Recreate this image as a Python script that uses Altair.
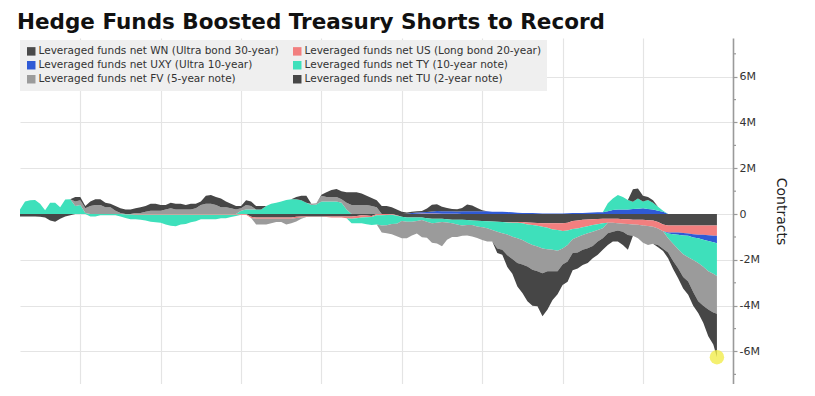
import altair as alt
import pandas as pd

# time (decimal years)
t = [2006.5, 2006.625, 2006.75, 2006.875, 2007.0, 2007.125, 2007.25, 2007.375, 2007.5, 2007.625,
     2007.75, 2007.875, 2008.0, 2008.125, 2008.25, 2008.375, 2008.5, 2008.625, 2008.75, 2008.875,
     2009.0, 2009.125, 2009.25, 2009.375, 2009.5, 2009.625, 2009.75, 2009.875, 2010.0, 2010.125,
     2010.25, 2010.375, 2010.5, 2010.625, 2010.75, 2010.875, 2011.0, 2011.125, 2011.25, 2011.375,
     2011.5, 2011.625, 2011.75, 2011.875, 2012.0, 2012.125, 2012.25, 2012.375, 2012.5, 2012.625,
     2012.75, 2012.875, 2013.0, 2013.125, 2013.25, 2013.375, 2013.5, 2013.625, 2013.75, 2013.875,
     2014.0, 2014.125, 2014.25, 2014.375, 2014.5, 2014.625, 2014.75, 2014.875, 2015.0, 2015.125,
     2015.25, 2015.375, 2015.5, 2015.625, 2015.75, 2015.875, 2016.0, 2016.125, 2016.25, 2016.375,
     2016.5, 2016.625, 2016.75, 2016.875, 2017.0, 2017.125, 2017.25, 2017.375, 2017.5, 2017.625,
     2017.75, 2017.875,
     2018.0, 2018.125, 2018.25, 2018.375, 2018.5, 2018.625, 2018.75, 2018.875,
     2019.0, 2019.125, 2019.25, 2019.375, 2019.5, 2019.625, 2019.75, 2019.875,
     2020.0, 2020.125, 2020.25, 2020.375, 2020.5, 2020.625, 2020.75, 2020.875,
     2021.0, 2021.125, 2021.25, 2021.375, 2021.5, 2021.625, 2021.75, 2021.875,
     2022.0, 2022.125, 2022.25, 2022.375, 2022.5, 2022.625, 2022.75, 2022.875,
     2023.0, 2023.125, 2023.25, 2023.375, 2023.5, 2023.625, 2023.75, 2023.84]

# net positions, millions of contracts
wn = [0, 0, 0, 0, 0, 0, 0, 0, 0, 0, 0, 0, 0, 0, 0, 0, 0, 0, 0, 0,
      0, 0, 0, 0, 0, 0, 0, 0, 0, 0, 0, 0, 0, 0, 0, 0, 0, 0, 0, 0,
      0, 0, 0, 0, 0, 0, -0.12, -0.15, -0.15, -0.15, -0.15, -0.15, -0.15, -0.15, -0.15, -0.12,
      -0.1, -0.1, -0.1, -0.1, -0.1, -0.1, -0.1, -0.1, -0.1, -0.1, -0.1, -0.08, -0.05, -0.06,
      -0.08, 0, 0, 0, 0, -0.05, -0.12, -0.15, -0.15, -0.15, -0.15, -0.18, -0.2, -0.2, -0.2,
      -0.22, -0.25, -0.25, -0.25, -0.26, -0.28, -0.29,
      -0.3, -0.31, -0.32, -0.33, -0.35, -0.35, -0.35, -0.35,
      -0.35, -0.37, -0.38, -0.39, -0.4, -0.4, -0.4, -0.4,
      -0.4, -0.38, -0.3, -0.28, -0.25, -0.24, -0.22, -0.21,
      -0.2, -0.2, -0.2, -0.2, -0.22, -0.23, -0.25, -0.25,
      -0.25, -0.27, -0.28, -0.35, -0.45, -0.5, -0.5, -0.5,
      -0.5, -0.5, -0.5, -0.5, -0.5, -0.5, -0.5, -0.5]
us = [0, 0, 0, 0, 0, 0, 0, 0, 0, 0, 0, 0, 0, 0, 0, 0, 0, 0, 0, 0,
      0, -0.02, -0.02, -0.03, -0.03, -0.03, -0.03, -0.03, -0.03, -0.03, -0.03, -0.03, -0.03,
      -0.03, -0.03, -0.03, -0.03, -0.03, -0.03, -0.03, -0.03, -0.03, -0.03, -0.03, -0.03, -0.03,
      -0.05, -0.05, -0.05, -0.05, -0.05, -0.05, -0.05, -0.05, -0.05, -0.05, -0.05, -0.03,
      -0.02, -0.02, -0.02, -0.03, -0.05, -0.05, -0.05, -0.08, -0.1, -0.1, -0.1, -0.08,
      -0.05, -0.05, -0.05, -0.04, -0.03, -0.02, 0, 0, 0, 0.02, 0.03, 0.03, 0.03, 0.03,
      0.02, 0.02, 0.02, 0.01, 0, 0, 0, 0,
      0, 0, 0, 0, 0, -0.02, -0.03, -0.03,
      -0.05, -0.08, -0.1, -0.12, -0.15, -0.2, -0.27, -0.3,
      -0.34, -0.34, -0.35, -0.35, -0.33, -0.29, -0.26, -0.23,
      -0.2, -0.18, -0.18, -0.2, -0.2, -0.2, -0.2, -0.22,
      -0.25, -0.25, -0.27, -0.28, -0.3, -0.3, -0.3, -0.3,
      -0.33, -0.35, -0.38, -0.4, -0.4, -0.42, -0.45, -0.45]
uxy = [0, 0, 0, 0, 0, 0, 0, 0, 0, 0, 0, 0, 0, 0, 0, 0, 0, 0, 0, 0,
       0, 0, 0, 0, 0, 0, 0, 0, 0, 0, 0, 0, 0, 0, 0, 0, 0, 0, 0, 0,
       0, 0, 0, 0, 0, 0, 0, 0, 0, 0, 0, 0, 0, 0, 0, 0, 0, 0, 0, 0,
       0, 0, 0, 0, 0, 0, 0, 0, 0, 0, 0, 0, 0, 0, 0, 0,
       0, 0.02, 0.05, 0.05, 0.05, 0.06, 0.08, 0.1, 0.1, 0.1, 0.1, 0.1, 0.12, 0.12, 0.12, 0.12,
       0.12, 0.12, 0.1, 0.1, 0.1, 0.09, 0.08, 0.06,
       0.05, 0.05, 0.05, 0.04, 0.03, 0.03, 0.03, 0.03,
       0.03, 0.04, 0.05, 0.05, 0.05, 0.06, 0.07, 0.08,
       0.08, 0.12, 0.18, 0.2, 0.2, 0.2, 0.22, 0.23,
       0.25, 0.22, 0.2, 0.15, 0.1, -0.05, -0.08, -0.1,
       -0.1, -0.1, -0.14, -0.16, -0.22, -0.25, -0.28, -0.32]
ty = [0.2, 0.55, 0.6, 0.62, 0.45, 0.17, 0.5, 0.5, 0.3, 0.64,
      0.65, 0.35, 0.4, 0.05, -0.1, -0.1, -0.05, -0.05, -0.05, -0.05,
      -0.1, -0.15, -0.2, -0.2, -0.22, -0.25, -0.3, -0.33, -0.35, -0.42,
      -0.48, -0.5, -0.42, -0.4, -0.33, -0.28, -0.2, -0.2, -0.2, -0.2,
      -0.15, -0.15, -0.1, -0.05, 0.15, 0.2, 0.2, 0.2, 0.2, 0.35,
      0.45, 0.5, 0.55, 0.62, 0.65, 0.65, 0.6, 0.5, 0.4, 0.42,
      0.55, 0.55, 0.55, 0.55, 0.5, 0.2, -0.2, -0.22, -0.25, -0.3,
      -0.35, -0.4, -0.45, -0.45, -0.4, -0.35, -0.18, -0.18, -0.18, -0.15,
      -0.11, -0.15, -0.2, -0.18, -0.15, -0.15, -0.15, -0.2, -0.25, -0.22,
      -0.2, -0.25,
      -0.28, -0.31, -0.38, -0.44, -0.49, -0.52, -0.61, -0.68,
      -0.73, -0.8, -0.87, -0.91, -0.95, -0.94, -0.89, -0.9,
      -0.76, -0.63, -0.45, -0.37, -0.33, -0.31, -0.29, -0.26,
      -0.22, 0.35, 0.5, 0.63, 0.55, 0.41, 0.32, 0.45,
      0.3, 0.39, 0.3, 0.17, 0.05, -0.21, -0.42, -0.64,
      -0.82, -0.93, -0.98, -1.08, -1.18, -1.33, -1.37, -1.43]
fv = [0, 0, 0, 0, 0, 0, 0, 0, 0, 0,
      0, 0.2, 0.2, 0.2, 0.35, 0.4, 0.4, 0.3, 0.3, 0.15,
      0.05, 0, 0, 0.05, 0.05, 0.1, 0.15, 0.15, 0.15, 0.2,
      0.25, 0.2, 0.2, 0.2, 0.2, 0.25, 0.4, 0.45, 0.45, 0.4,
      0.3, 0.3, 0.25, 0.2, 0.1, 0.2, 0.15, -0.25, -0.25, -0.25,
      -0.2, -0.15, -0.15, -0.25, -0.2, -0.15, -0.05, 0, 0.05, 0.05,
      0.25, 0.2, 0.2, 0.2, 0.15, 0.3, 0.4, 0.4, 0.4, 0.4,
      0.35, 0.3, -0.3, -0.35, -0.45, -0.55, -0.75, -0.72, -0.6, -0.55,
      -0.75, -0.7, -0.85, -0.9, -1.05, -0.75, -0.6, -0.55, -0.45, -0.45,
      -0.5, -0.5,
      -0.55, -0.58, -0.5, -0.73, -0.72, -0.91, -0.97, -1.08,
      -1.07, -1.04, -1.08, -1.08, -1.08, -0.96, -0.94, -0.9,
      -0.7, -0.72, -0.6, -0.68, -0.65, -0.65, -0.62, -0.5,
      -0.44, -0.46, -0.39, -0.32, -0.35, -0.48, -0.5, -0.59,
      -0.75, -0.83, -0.75, -0.72, -0.76, -0.62, -0.75, -0.82,
      -1.0, -1.06, -1.4, -1.67, -1.7, -1.67, -1.7, -1.65]
tu = [-0.1, -0.1, -0.1, -0.1, -0.12, -0.15, -0.28, -0.33, -0.2, -0.1,
      -0.05, 0.2, 0.15, 0.1, 0.2, 0.25, 0.25, 0.2, 0.15, 0.2,
      0.2, 0.2, 0.2, 0.2, 0.25, 0.25, 0.3, 0.3, 0.25, 0.2,
      0.25, 0.25, 0.25, 0.2, 0.25, 0.2, 0.15, 0.35, 0.38, 0.35,
      0.38, 0.25, 0.2, 0.15, 0.1, 0.2, 0.2, 0.15, 0.15, 0,
      0, 0, 0, 0, 0, 0.1, 0.2, 0.3, 0, 0,
      0.05, 0.2, 0.3, 0.35, 0.35, 0.45, 0.55, 0.55, 0.5, 0.4,
      0.35, 0.3, 0.35, 0.35, 0.3, 0.2, 0.1, 0.05, 0.05, 0.05,
      0.05, 0.15, 0.3, 0.3, 0.2, 0.15, 0.1, 0.1, 0.15, 0.3,
      0.25, 0.15,
      0.05, 0, 0, -0.2, -0.22, -0.51, -0.65, -1.02,
      -1.25, -1.52, -1.57, -1.53, -1.88, -1.67, -1.25, -1.0,
      -0.9, -0.88, -0.75, -0.7, -0.66, -0.65, -0.54, -0.58,
      -0.5, -0.51, -0.43, -0.48, -0.58, -0.65, 0.55, 0.44,
      0.25, 0.14, 0.1, -0.1, -0.1, -0.25, -0.35, -0.44,
      -0.5, -0.58, -0.6, -0.51, -0.75, -1.16, -1.4, -1.9]

names = [
    "Leveraged funds net WN (Ultra bond 30-year)",
    "Leveraged funds net US (Long bond 20-year)",
    "Leveraged funds net UXY (Ultra 10-year)",
    "Leveraged funds net TY (10-year note)",
    "Leveraged funds net FV (5-year note)",
    "Leveraged funds net TU (2-year note)",
]
colors = ["#4a4a4a", "#f27f7f", "#2f5ad6", "#3ee0bb", "#9b9b9b", "#464646"]
# legend fills column by column: order entries so rows read WN|US, UXY|TY, FV|TU
legend_order = [0, 2, 4, 1, 3, 5]
grid_years = [2008, 2010, 2012, 2014, 2016, 2018, 2020, 2022]
major_ticks = [-6, -4, -2, 0, 2, 4, 6]
minor_ticks = [-7, -5, -3, -1, 1, 3, 5, 7]

series = [wn, us, uxy, ty, fv, tu]
for s in series:
    assert len(s) == len(t), (len(s), len(t))

rows = []
for i, tt in enumerate(t):
    pos = 0.0
    neg = 0.0
    for name, vals in zip(names, series):
        v = vals[i]
        p = v if v > 0 else 0.0
        n = v if v < 0 else 0.0
        rows.append({"t": tt, "series": name, "part": name + " +", "lo": pos, "hi": pos + p})
        pos += p
        rows.append({"t": tt, "series": name, "part": name + " -", "lo": neg + n, "hi": neg})
        neg += n
df = pd.DataFrame(rows)
last = pd.DataFrame({"t": [t[-1]], "hi": [sum(s[-1] for s in series)]})
minor = pd.DataFrame({"hi": minor_ticks})

x_scale = alt.Scale(domain=[2006.5, 2024.24], nice=False, zero=False)
y_scale = alt.Scale(domain=[-7.42, 7.69], nice=False, zero=False)

y_axis = alt.Axis(
    orient="right",
    values=major_ticks,
    labelExpr="datum.value == 0 ? '0' : datum.value + 'M'",
    labelOverlap=False,
    labelFont="DejaVu Sans",
    labelFontSize=11,
    labelColor="#333333",
    labelPadding=2,
    tickSize=4,
    tickColor="#9a9a9a",
    tickWidth=1.2,
    domainColor="#9a9a9a",
    domainWidth=1.6,
    grid=True,
    gridColor="#e4e4e4",
    gridWidth=1.1,
    title="Contracts",
    titleFont="DejaVu Sans",
    titleFontSize=14,
    titleFontWeight="normal",
    titleColor="#222222",
    titlePadding=14,
)
x_axis = alt.Axis(values=grid_years, labels=False, ticks=False, domain=False,
                  grid=True, gridColor="#e4e4e4", gridWidth=1.2, title=None)

legend = alt.Legend(
    orient="none", legendX=0, legendY=2, columns=2, title=None,
    symbolType="square", symbolSize=72, symbolStrokeWidth=0,
    labelFont="DejaVu Sans", labelFontSize=10.5, labelColor="#333333", labelLimit=400,
    fillColor="#efefef", padding=6, rowPadding=3, columnPadding=13, labelOffset=2,
)

areas = alt.Chart(df).mark_area(interpolate="linear").encode(
    x=alt.X("t:Q", scale=x_scale, axis=x_axis),
    y=alt.Y("hi:Q", scale=y_scale, axis=y_axis),
    y2="lo:Q",
    color=alt.Color(
        "series:N",
        scale=alt.Scale(domain=[names[k] for k in legend_order],
                        range=[colors[k] for k in legend_order]),
        legend=legend,
    ),
    detail="part:N",
)

minor_rules = alt.Chart(minor).mark_rule(color="#9a9a9a", strokeWidth=1.2).encode(
    y=alt.Y("hi:Q", scale=y_scale, axis=y_axis),
    x=alt.value(713),
    x2=alt.value(716),
)

dot = alt.Chart(last).mark_circle(size=210, color="#f1ec4c", opacity=0.8).encode(
    x=alt.X("t:Q", scale=x_scale, axis=x_axis),
    y=alt.Y("hi:Q", scale=y_scale, axis=y_axis),
)

chart = alt.layer(areas, minor_rules, dot).properties(
    width=713,
    height=346,
    title=alt.TitleParams(
        "Hedge Funds Boosted Treasury Shorts to Record",
        anchor="start", frame="group", font="DejaVu Sans", fontSize=21.5,
        fontWeight="bold", color="#111111", offset=4.5, dx=-3,
    ),
    autosize=alt.AutoSizeParams(type="none"),
    padding={"left": 12, "top": 30, "right": 60, "bottom": 0},
).configure_view(stroke=None)

chart.save("out.html", embed_options={"renderer": "svg", "actions": False})
